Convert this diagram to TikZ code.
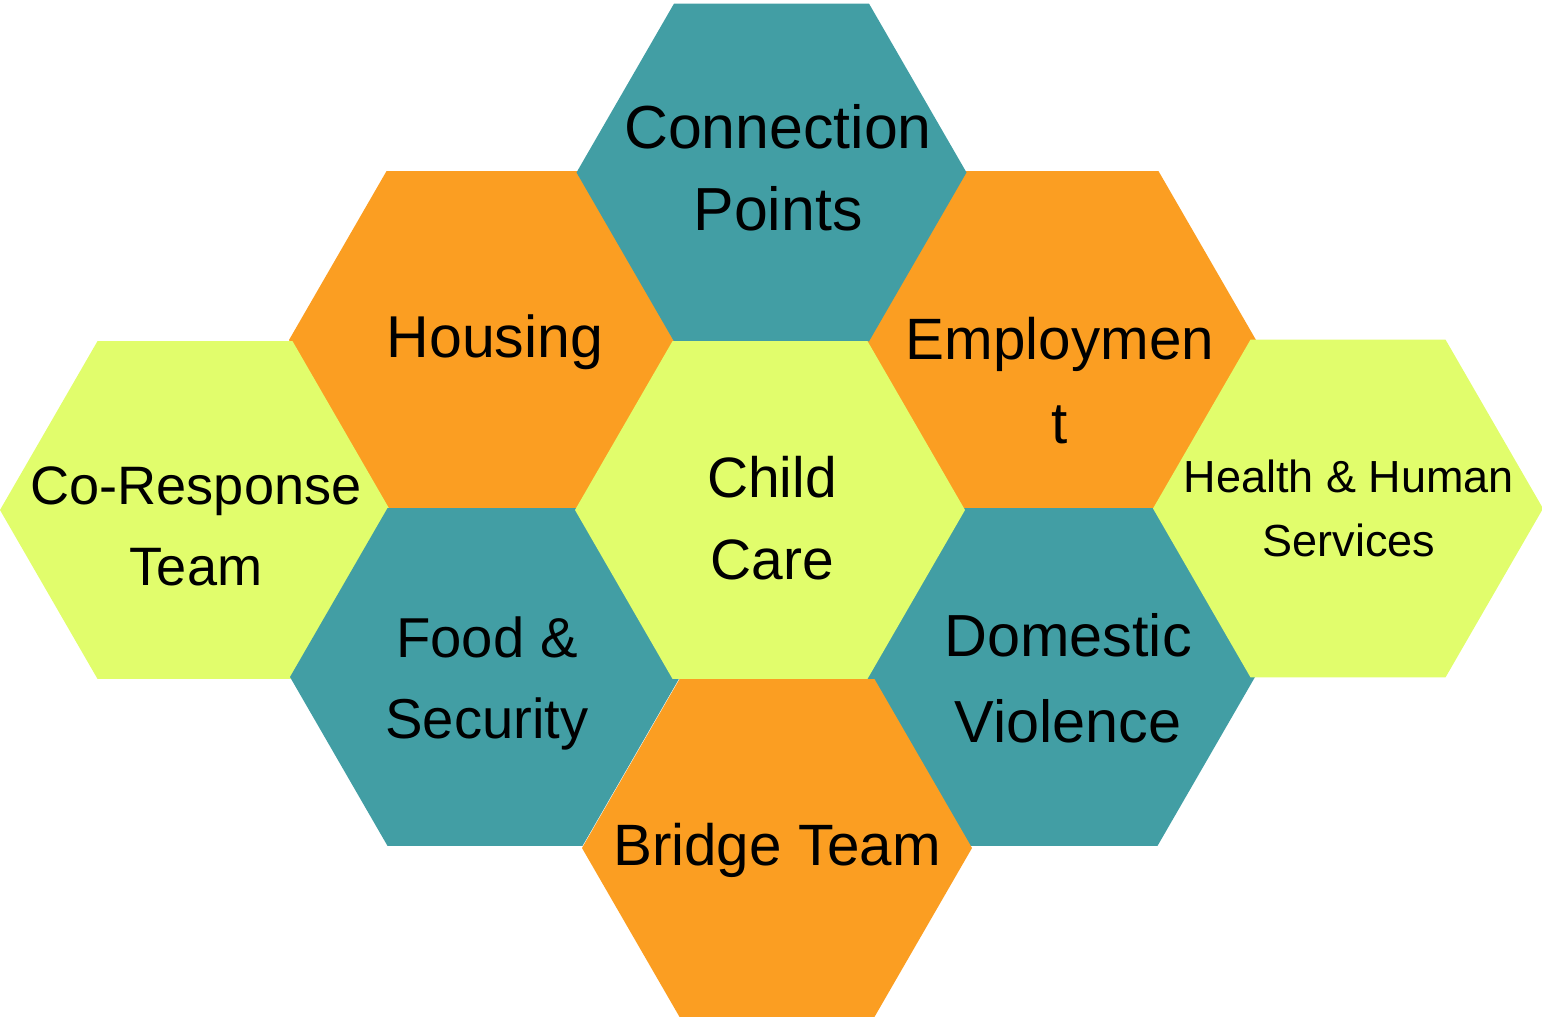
\documentclass[tikz,border=0pt]{standalone}
\usepackage{fontspec}
\setmainfont{Liberation Sans}
\usepackage{tikz}
\usetikzlibrary{shapes.geometric}

\definecolor{cellteal}{RGB}{66,158,164}
\definecolor{cellorange}{RGB}{251,158,34}
\definecolor{celllime}{RGB}{225,253,108}

\begin{document}
\begin{tikzpicture}[
			hexcell/.style = {regular polygon, regular polygon sides = 6, minimum size = 3.9cm,
				inner sep = 0pt, outer sep = 0pt, draw = none},
			celltext/.style = {anchor = base, align = center, inner sep = 0pt, text = black},
			fs/.style 2 args = {font = \fontsize{#1}{#2}\selectfont}]

			\useasboundingbox (0,0) rectangle (15.42,-10.19);

			\node[hexcell,fill=cellorange] (housecell) at (4.84,-3.40) {};
			\node[hexcell,fill=cellorange] (employcell) at (10.61,-3.40) {};
			\node[hexcell,fill=cellteal] (conncell) at (7.715,-1.725) {};
			\node[hexcell,fill=celllime] (corrcell) at (1.95,-5.10) {};
			\node[hexcell,fill=cellteal] (foodcell) at (4.85,-6.77) {};
			\node[hexcell,fill=cellteal] (domcell) at (10.60,-6.77) {};
			\node[hexcell,fill=celllime] (childcell) at (7.70,-5.10) {};
			\node[hexcell,fill=celllime] (healthcell) at (13.48,-5.085) {};
			\node[hexcell,fill=cellorange] (bridgecell) at (7.77,-8.48) {};

			\node[celltext,fs={17.3}{23.3}] (conn) at (7.78,-2.30) {Connection\\Points};
			\node[celltext,fs={16.8}{23.3}] (house) at (4.95,-3.57) {Housing};
			\node[celltext,fs={16.6}{23.9}] (employ) at (10.60,-4.43) {Employmen\\t};
			\node[celltext,fs={16.2}{23.3}] (child) at (7.72,-5.79) {Child\\Care};
			\node[celltext,fs={15.4}{22.8}] (corr) at (1.96,-5.85) {Co-Response\\Team};
			\node[celltext,fs={12.8}{18.2}] (health) at (13.49,-5.56) {Health \& Human\\Services};
			\node[celltext,fs={16.0}{23.0}] (food) at (4.87,-7.38) {Food \&\\Security};
			\node[celltext,fs={16.9}{24.2}] (dom) at (10.68,-7.42) {Domestic\\Violence};
			\node[celltext,fs={16.6}{23.3}] (bridge) at (7.77,-8.65) {Bridge Team};

		\end{tikzpicture}
\end{document}
